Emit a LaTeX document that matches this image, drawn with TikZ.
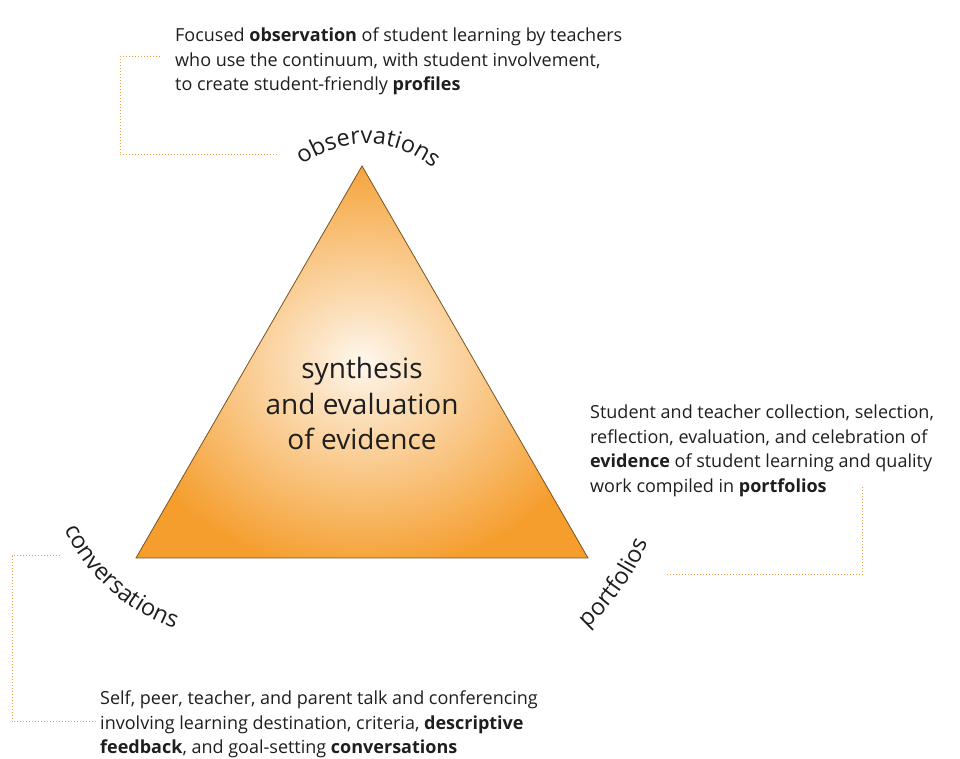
\documentclass[tikz,border=0pt]{standalone}
\usepackage{fontspec}
\setmainfont{Open Sans}
\usepackage{tikz}
\usetikzlibrary{positioning}
\usetikzlibrary{decorations.text}

\definecolor{triorange}{RGB}{245,158,46}
\definecolor{triedge}{RGB}{120,82,35}
\definecolor{dotline}{RGB}{232,165,75}
\definecolor{bodytext}{RGB}{30,30,30}

\pgfdeclareradialshading{trishade}{\pgfpoint{0bp}{0bp}}{color(0bp)=(white!92!triorange); color(6bp)=(white!70!triorange); color(27bp)=(triorange); color(50bp)=(triorange)}

\newcommand{\lblfont}{\fontsize{23.5}{23.5}\selectfont}

\tikzset{
    blurb/.style={anchor=north west, align=left, inner sep=0pt, text=bodytext,
        font=\fontsize{18}{24.5}\selectfont},
    core/.style={align=center, inner sep=0pt, text=bodytext,
        font=\fontsize{28}{35.5}\selectfont},
    leader/.style={draw=dotline, dotted, line width=1pt},
    arclabel/.style={decorate, decoration={text along path, text align=center, text color=bodytext}},
}

\begin{document}
\begin{tikzpicture}[x=1pt,y=1pt]
\useasboundingbox (0,0) rectangle (960,759);

\coordinate (apex) at (362,593);
\coordinate (left) at (136,201);
\coordinate (right) at (588,201);

\shade [shading=trishade] (apex) -- (left) -- (right) -- cycle;
\draw [triedge, line width=0.8pt] (apex) -- (left) -- (right) -- cycle;

\node [core] at (362,355) (synth) {synthesis\\and evaluation\\of evidence};

% the three corner labels
\coordinate (obsc) at (366,509);
\coordinate (convc) at (240,314);
\coordinate (portc) at (416,315);

\path [arclabel, decoration={text={|\lblfont|observations}}] (obsc) ++(150:106pt) arc (150:27:106pt);
\path [arclabel, decoration={text={|\lblfont|conversations}}] (convc) ++(188:195pt) arc (188:268:195pt);
\path [arclabel, decoration={text={|\lblfont|portfolios}}] (portc) ++(-57:252pt) arc (-57:-13:252pt);

\node [blurb] at (175,731) (obstext) {Focused \textbf{observation} of student learning by teachers\\who use the continuum, with student involvement,\\to create student-friendly \textbf{profiles}};
\node [blurb] at (590,354) (porttext) {Student and teacher collection, selection,\\reflection, evaluation, and celebration of\\\textbf{evidence} of student learning and quality\\work compiled in \textbf{portfolios}};
\node [blurb] at (100,68) (convtext) {Self, peer, teacher, and parent talk and conferencing\\involving learning destination, criteria, \textbf{descriptive}\\\textbf{feedback}, and goal-setting \textbf{conversations}};

\coordinate (obsin) at (160,702);
\coordinate (obsout) at (278,604);
\coordinate (portin) at (862,272);
\coordinate (portout) at (667,184);
\coordinate (convin) at (60,203);
\coordinate (convout) at (98,37);

\draw [leader] (obsin) -- ++(-40,0) |- (obsout);
\draw [leader] (portin) |- (portout);
\draw [leader] (convin) -- ++(-48,0) |- (convout);

\end{tikzpicture}
\end{document}
